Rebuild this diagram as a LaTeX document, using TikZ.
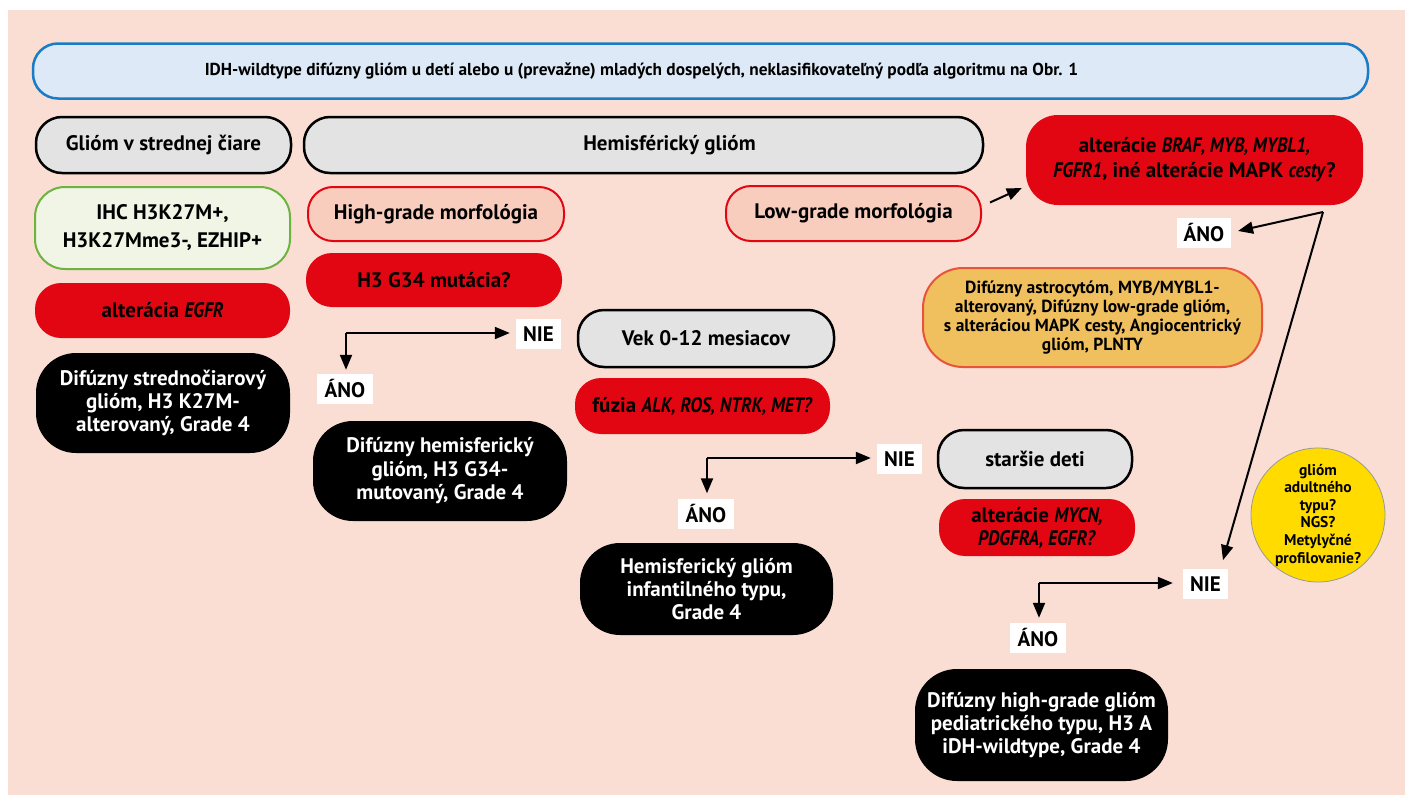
\documentclass[tikz,border=0pt]{standalone}
\usepackage{fontspec}
\setmainfont{PT Sans}[ItalicFeatures={FakeStretch=0.86},BoldItalicFeatures={FakeStretch=0.86}]
\usetikzlibrary{arrows.meta,calc}
\definecolor{bgpink}{HTML}{FADDD3}
\definecolor{titlefill}{HTML}{DDE9F7}
\definecolor{titleline}{HTML}{1A7CC4}
\definecolor{grayfill}{HTML}{E3E3E3}
\definecolor{greenfill}{HTML}{F1F5E5}
\definecolor{greenline}{HTML}{6DB33F}
\definecolor{salmon}{HTML}{F9CDBD}
\definecolor{redfill}{HTML}{E20613}
\definecolor{orangefill}{HTML}{F0C05F}
\definecolor{orangeline}{HTML}{E8533A}
\definecolor{yellowfill}{HTML}{FFDB00}
\begin{document}
\begin{tikzpicture}[x=1pt,y=-1pt,
  mainfont/.style={font=\bfseries\fontsize{21}{23}\selectfont},
  smallfont/.style={font=\bfseries\fontsize{17.5}{19}\selectfont},
  box/.style={rectangle, align=center, inner sep=0pt, mainfont},
  titlebox/.style={box, fill=titlefill, draw=titleline, line width=2.5pt, rounded corners=25pt, font=\bfseries\fontsize{17.3}{20}\selectfont},
  graybox/.style={box, fill=grayfill, draw=black, line width=2.5pt, rounded corners=26pt},
  greenbox/.style={box, fill=greenfill, draw=greenline, line width=2pt, rounded corners=30pt},
  salmonbox/.style={box, fill=salmon, draw=redfill, line width=2pt, rounded corners=25pt},
  redbox/.style={box, fill=redfill, rounded corners=26pt},
  blackbox/.style={box, fill=black, text=white, rounded corners=40pt},
  orangebox/.style={box, fill=orangefill, draw=orangeline, line width=2pt, rounded corners=40pt, smallfont},
  yellowcircle/.style={circle, align=center, inner sep=0pt, fill=yellowfill, draw=gray!80, line width=0.8pt, font=\bfseries\fontsize{15.5}{17.6}\selectfont},
  lab/.style={rectangle, fill=white, inner sep=0pt, minimum height=30pt, mainfont},
  arr/.style={line width=2pt, -{Triangle[length=15pt,width=12pt]}}
]
\useasboundingbox (0,0) rectangle (1405,795);
\fill[bgpink] (8,10) rectangle (1405,795);

% title
\node[titlebox, minimum width=1335pt, minimum height=55pt] (title) at (700.5,71)
  {IDH-wildtype difúzny glióm u detí alebo u (prevažne) mladých dospelých, neklasifikovateľný podľa algoritmu na Obr. 1\hspace*{118pt}};

% column headers
\node[graybox, minimum width=255pt, minimum height=56pt] (mid) at (163.5,145) {Glióm v strednej čiare};
\node[graybox, minimum width=679pt, minimum height=56pt] (hemi) at (643.5,145) {\hspace*{52pt}Hemisférický glióm};
\node[redbox, rounded corners=32pt, minimum width=337pt, minimum height=90pt, font=\bfseries\fontsize{21}{25}\selectfont] (braf) at (1194.5,160)
  {alterácie \textit{BRAF, MYB, MYBL1,}\\\textit{FGFR1}, iné alterácie MAPK \textit{cesty}?};

% midline column
\node[greenbox, minimum width=255pt, minimum height=82pt, font=\bfseries\fontsize{21}{28}\selectfont] (ihc) at (162.5,228) {IHC H3K27M+,\\H3K27Mme3-, EZHIP+};
\node[redbox, minimum width=255pt, minimum height=55pt] (egfr) at (162.5,310.5) {alterácia \textit{EGFR}};
\node[blackbox, minimum width=254pt, minimum height=100pt] (b1) at (163,403) {Difúzny strednočiarový\\glióm, H3 K27M-\\alterovaný, Grade 4};

% hemispheric high grade
\node[salmonbox, minimum width=256pt, minimum height=54pt] (hg) at (436,214) {High-grade morfológia};
\node[redbox, minimum width=256pt, minimum height=54pt] (g34) at (434,280) {H3 G34 mutácia?};
\node[salmonbox, minimum width=255pt, minimum height=55pt] (lg) at (853.5,213.5) {Low-grade morfológia};

\coordinate (c1) at (346,333);
\node[lab, minimum width=45pt] (nie1) at (538.5,334) {NIE};
\node[lab, minimum width=56pt] (ano1) at (345,389) {ÁNO};
\node[blackbox, minimum width=254pt, minimum height=100pt, font=\bfseries\fontsize{21}{23.5}\selectfont] (b2) at (440,471) {Difúzny hemisferický\\glióm, H3 G34-\\mutovaný, Grade 4};

\node[graybox, minimum width=256pt, minimum height=57pt] (vek) at (706,338.5) {Vek 0-12 mesiacov};
\node[redbox, minimum width=255pt, minimum height=56pt] (fuz) at (702.5,406) {fúzia \textit{ALK, ROS, NTRK, MET?}};

\coordinate (c2) at (707,458);
\node[lab, minimum width=45pt] (nie2) at (899.5,459) {NIE};
\node[lab, minimum width=56pt] (ano2) at (706,513.5) {ÁNO};
\node[blackbox, minimum width=253pt, minimum height=92pt] (b3) at (706.5,589) {Hemisferický glióm\\infantilného typu,\\Grade 4};

\node[graybox, minimum width=194pt, minimum height=58pt] (old) at (1035,459) {staršie deti};
\node[redbox, minimum width=196pt, minimum height=57pt] (mycn) at (1037,527.5) {alterácie \textit{MYCN,}\\\textit{PDGFRA, EGFR?}};

\coordinate (c3) at (1039,583);
\node[lab, minimum width=45pt] (nie3) at (1205.5,584) {NIE};
\node[lab, minimum width=56pt] (ano3) at (1038,638) {ÁNO};
\node[blackbox, minimum width=253pt, minimum height=112pt, rounded corners=42pt] (b4) at (1041.5,725) {Difúzny high-grade glióm\\pediatrického typu, H3 A\\iDH-wildtype, Grade 4};

% low grade branch
\node[orangebox, minimum width=339pt, minimum height=99pt] (orange) at (1092.5,317.5)
  {Difúzny astrocytóm, MYB/MYBL1-\\alterovaný, Difúzny low-grade glióm,\\s alteráciou MAPK cesty, Angiocentrický\\glióm, PLNTY};
\node[lab, minimum width=54pt] (ano0) at (1204,232.5) {ÁNO};
\node[yellowcircle, minimum size=134pt] (yel) at (1318,515) {glióm\\adultného\\typu?\\NGS?\\Metylyčné\\profilovanie?};

\coordinate (t) at (1323,212);

% connectors
\draw[arr] ($(lg.east)+(8,-11)$) -- ($(braf.west)+(-4,28)$);
\draw[arr, shorten >=7pt] (t) -- (ano0.east);
\draw[arr, shorten >=9pt] (t) -- ($(nie3.north)+(15,0)$);

\draw[arr, shorten >=6pt] (c1) -- (c1 -| nie1.west);
\draw[arr, shorten >=4pt] (c1) -- (c1 |- ano1.north);
\draw[arr, shorten >=6pt] (c2) -- (c2 -| nie2.west);
\draw[arr, shorten >=5pt] (c2) -- (c2 |- ano2.north);
\draw[arr, shorten >=10pt] (c3) -- (c3 -| nie3.west);
\draw[arr, shorten >=5pt] (c3) -- (c3 |- ano3.north);
\end{tikzpicture}
\end{document}
